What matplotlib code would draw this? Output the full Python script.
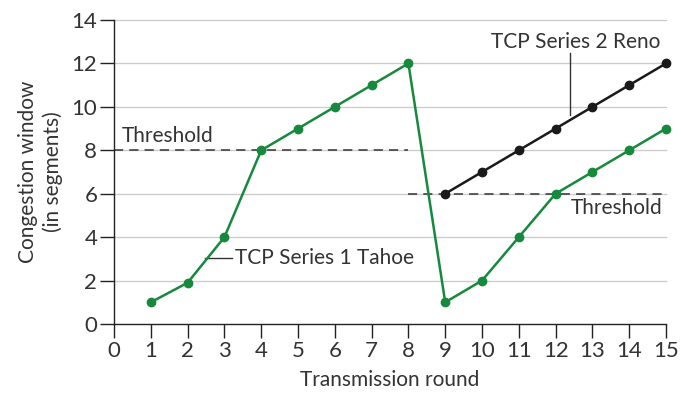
import numpy as np
import matplotlib.pyplot as plt

plt.rcParams['font.family'] = ['Lato', 'DejaVu Sans']

rounds = list(range(1, 16))
tahoe = [1, 1.9, 4, 8, 9, 10, 11, 12, 1, 2, 4, 6, 7, 8, 9]
reno_rounds = list(range(9, 16))
reno = [6, 7, 8, 9, 10, 11, 12]
x_ticks = list(range(0, 16))
y_ticks = list(range(0, 15, 2))

green = '#168a3c'
txt = '#333333'
fs = 15

fig = plt.figure(figsize=(6.81, 4.0), dpi=100)
ax = fig.add_axes([0.1674, 0.19, 0.8106, 0.76])

# gridlines
for yv in y_ticks[1:]:
    ax.plot([0, 15], [yv, yv], color='#cccccc', lw=1.0, zorder=1, clip_on=False)

# thresholds
ax.plot([0, 8], [8, 8], color='#333333', lw=1.1, ls=(0, (6, 4)), zorder=2)
ax.plot([8, 15], [6, 6], color='#333333', lw=1.1, ls=(0, (6, 4)), zorder=2, clip_on=False)

ax.plot(rounds, tahoe, color=green, lw=1.8, marker='o', ms=6, zorder=4, clip_on=False)
ax.plot(reno_rounds, reno, color='#1a1a1a', lw=1.8, marker='o', ms=6, zorder=4, clip_on=False)

# labels
ax.text(0.22, 8.2, 'Threshold', color=txt, fontsize=fs, ha='left', va='bottom')
ax.text(14.9, 5.8, 'Threshold', color=txt, fontsize=fs, ha='right', va='top')
ax.plot([2.47, 3.22], [3.04, 3.04], color='#333333', lw=1.0, zorder=3)
ax.text(3.3, 3.04, 'TCP Series 1 Tahoe', color=txt, fontsize=fs, ha='left', va='center')
ax.plot([12.39, 12.39], [9.63, 12.5], color='#333333', lw=1.0, zorder=3)
ax.text(14.84, 13.0, 'TCP Series 2 Reno', color=txt, fontsize=fs, ha='right', va='center')

ax.set_xlim(0, 15)
ax.set_ylim(0, 14)
ax.set_xticks(x_ticks)
ax.set_yticks(y_ticks)
ax.tick_params(axis='both', direction='out', length=10, width=1.0, colors='#222222',
               labelsize=16, labelcolor=txt, pad=2)
for s in ['top', 'right']:
    ax.spines[s].set_visible(False)
for s in ['left', 'bottom']:
    ax.spines[s].set_color('#222222')
    ax.spines[s].set_linewidth(1.0)

ax.set_xlabel('Transmission round', fontsize=fs, color=txt, labelpad=7)
ax.set_ylabel('Congestion window\n(in segments)', fontsize=fs, color=txt, labelpad=6, linespacing=1.3)

fig.savefig('out.png', dpi=100)
